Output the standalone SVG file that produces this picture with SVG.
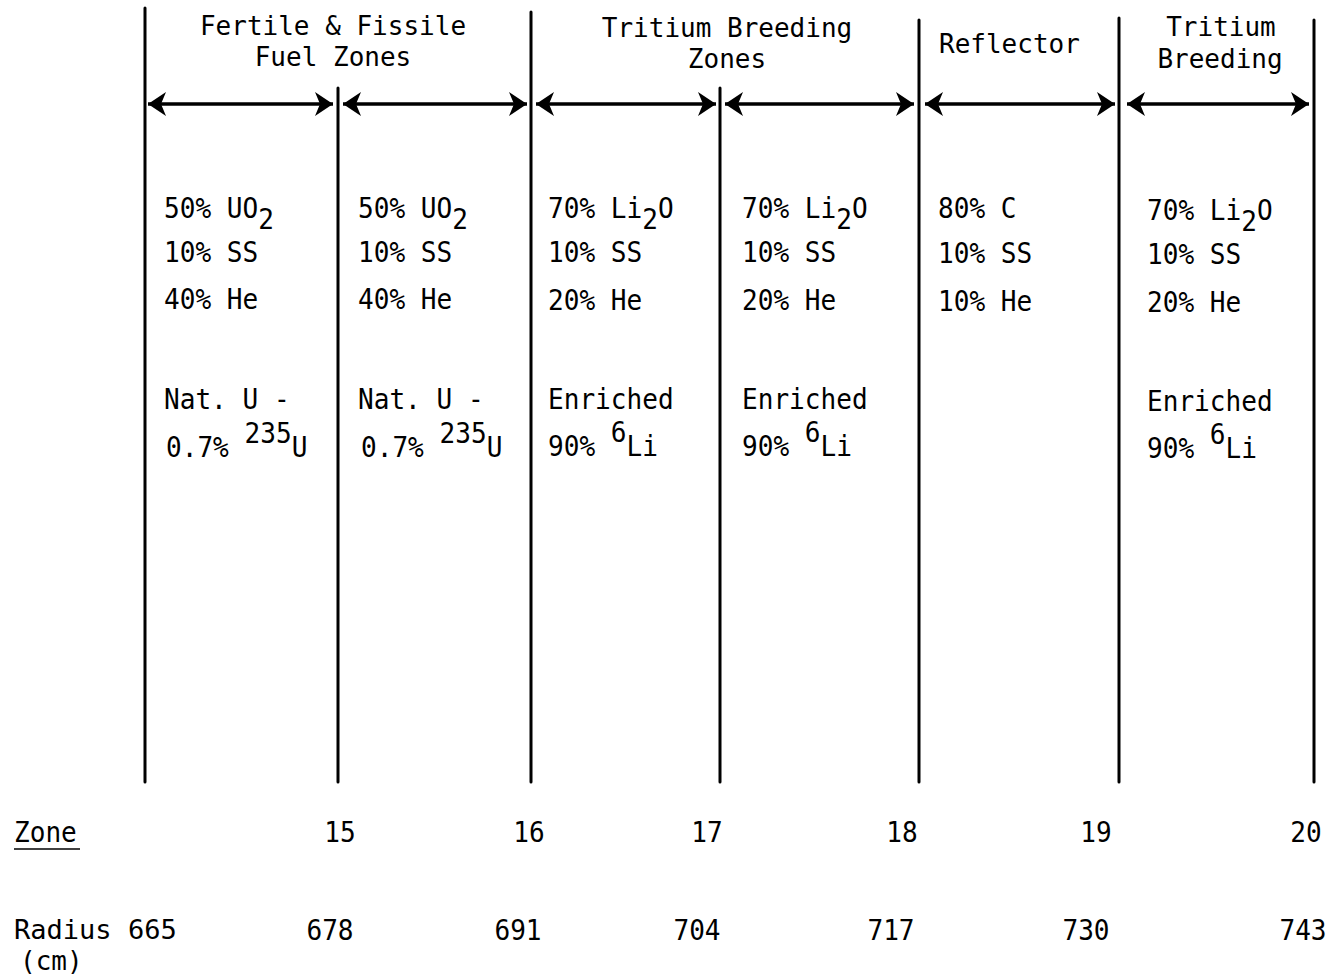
<svg xmlns="http://www.w3.org/2000/svg" width="1327" height="977" viewBox="0 0 1327 977">
<style>
text{font-family:"DejaVu Sans Mono","Liberation Mono",monospace;font-size:29px;fill:#000}
.h{font-size:26px}
.r{font-size:26px}
.c{text-anchor:middle}
.div{stroke:#000;stroke-width:3;stroke-linecap:round}
.arr{stroke:#000;stroke-width:3.5;marker-start:url(#ah);marker-end:url(#ah)}
</style>
<defs>
<marker id="ah" markerUnits="userSpaceOnUse" viewBox="-2 -14 22 28" refX="18" refY="0" markerWidth="22" markerHeight="28" orient="auto-start-reverse">
<path d="M0,-12 L18,0 L0,12 L5,0 Z" fill="#000"/>
</marker>
</defs>
<rect width="1327" height="977" fill="#fff"/>
<g id="connectors">
<line class="div" x1="145" y1="8" x2="145" y2="782"/>
<line class="div" x1="338" y1="88" x2="338" y2="782"/>
<line class="div" x1="531" y1="12" x2="531" y2="782"/>
<line class="div" x1="720" y1="88" x2="720" y2="782"/>
<line class="div" x1="919" y1="20" x2="919" y2="782"/>
<line class="div" x1="1119" y1="18" x2="1119" y2="782"/>
<line class="div" x1="1314" y1="20" x2="1314" y2="782"/>
<line class="arr" x1="148" y1="104" x2="333" y2="104"/>
<line class="arr" x1="343" y1="104" x2="527" y2="104"/>
<line class="arr" x1="536" y1="104" x2="716" y2="104"/>
<line class="arr" x1="725" y1="104" x2="914" y2="104"/>
<line class="arr" x1="925" y1="104" x2="1115" y2="104"/>
<line class="arr" x1="1127" y1="104" x2="1309" y2="104"/>
</g>
<g id="headers">
<text class="h c" x="333" y="35">Fertile &amp; Fissile</text>
<text class="h c" x="333" y="66">Fuel Zones</text>
<text class="h c" x="727" y="37">Tritium Breeding</text>
<text class="h c" x="727" y="68">Zones</text>
<text class="h" x="939" y="53">Reflector</text>
<text class="h c" x="1221" y="36">Tritium</text>
<text class="h c" x="1220" y="68">Breeding</text>
</g>
<g id="zone15">
<text transform="translate(164,218) scale(0.9,1)">50% UO<tspan dy="11">2</tspan></text>
<text transform="translate(164,262) scale(0.9,1)">10% SS</text>
<text transform="translate(164,309) scale(0.9,1)">40% He</text>
<text transform="translate(164,409) scale(0.9,1)">Nat. U -</text>
<text transform="translate(166,457) scale(0.9,1)">0.7% <tspan dy="-14">235</tspan><tspan dy="14">U</tspan></text>
</g>
<g id="zone16">
<text transform="translate(358,218) scale(0.9,1)">50% UO<tspan dy="11">2</tspan></text>
<text transform="translate(358,262) scale(0.9,1)">10% SS</text>
<text transform="translate(358,309) scale(0.9,1)">40% He</text>
<text transform="translate(358,409) scale(0.9,1)">Nat. U -</text>
<text transform="translate(361,457) scale(0.9,1)">0.7% <tspan dy="-14">235</tspan><tspan dy="14">U</tspan></text>
</g>
<g id="zone17">
<text transform="translate(548,218) scale(0.9,1)">70% Li<tspan dy="11">2</tspan><tspan dy="-11">O</tspan></text>
<text transform="translate(548,262) scale(0.9,1)">10% SS</text>
<text transform="translate(548,310) scale(0.9,1)">20% He</text>
<text transform="translate(548,409) scale(0.9,1)">Enriched</text>
<text transform="translate(548,456) scale(0.9,1)">90% <tspan dy="-14">6</tspan><tspan dy="14">Li</tspan></text>
</g>
<g id="zone18">
<text transform="translate(742,218) scale(0.9,1)">70% Li<tspan dy="11">2</tspan><tspan dy="-11">O</tspan></text>
<text transform="translate(742,262) scale(0.9,1)">10% SS</text>
<text transform="translate(742,310) scale(0.9,1)">20% He</text>
<text transform="translate(742,409) scale(0.9,1)">Enriched</text>
<text transform="translate(742,456) scale(0.9,1)">90% <tspan dy="-14">6</tspan><tspan dy="14">Li</tspan></text>
</g>
<g id="zone19">
<text transform="translate(938,218) scale(0.9,1)">80% C</text>
<text transform="translate(938,263) scale(0.9,1)">10% SS</text>
<text transform="translate(938,311) scale(0.9,1)">10% He</text>
</g>
<g id="zone20">
<text transform="translate(1147,220) scale(0.9,1)">70% Li<tspan dy="11">2</tspan><tspan dy="-11">O</tspan></text>
<text transform="translate(1147,264) scale(0.9,1)">10% SS</text>
<text transform="translate(1147,312) scale(0.9,1)">20% He</text>
<text transform="translate(1147,411) scale(0.9,1)">Enriched</text>
<text transform="translate(1147,458) scale(0.9,1)">90% <tspan dy="-14">6</tspan><tspan dy="14">Li</tspan></text>
</g>
<g id="zone-row">
<text transform="translate(14,842) scale(0.9,1)">Zone</text>
<line x1="14" y1="849" x2="80" y2="849" stroke="#000" stroke-width="1.5"/>
<text class="c" transform="translate(340,842) scale(0.9,1)">15</text>
<text class="c" transform="translate(529,842) scale(0.9,1)">16</text>
<text class="c" transform="translate(707,842) scale(0.9,1)">17</text>
<text class="c" transform="translate(902,842) scale(0.9,1)">18</text>
<text class="c" transform="translate(1096,842) scale(0.9,1)">19</text>
<text class="c" transform="translate(1306,842) scale(0.9,1)">20</text>
</g>
<g id="radius-row">
<text class="r" transform="translate(14,939) scale(1.04,1)">Radius 665</text>
<text class="r" x="20" y="970">(cm)</text>
<text class="c" transform="translate(330,940) scale(0.9,1)">678</text>
<text class="c" transform="translate(518,940) scale(0.9,1)">691</text>
<text class="c" transform="translate(697,940) scale(0.9,1)">704</text>
<text class="c" transform="translate(891,940) scale(0.9,1)">717</text>
<text class="c" transform="translate(1086,940) scale(0.9,1)">730</text>
<text class="c" transform="translate(1303,940) scale(0.9,1)">743</text>
</g>
</svg>
